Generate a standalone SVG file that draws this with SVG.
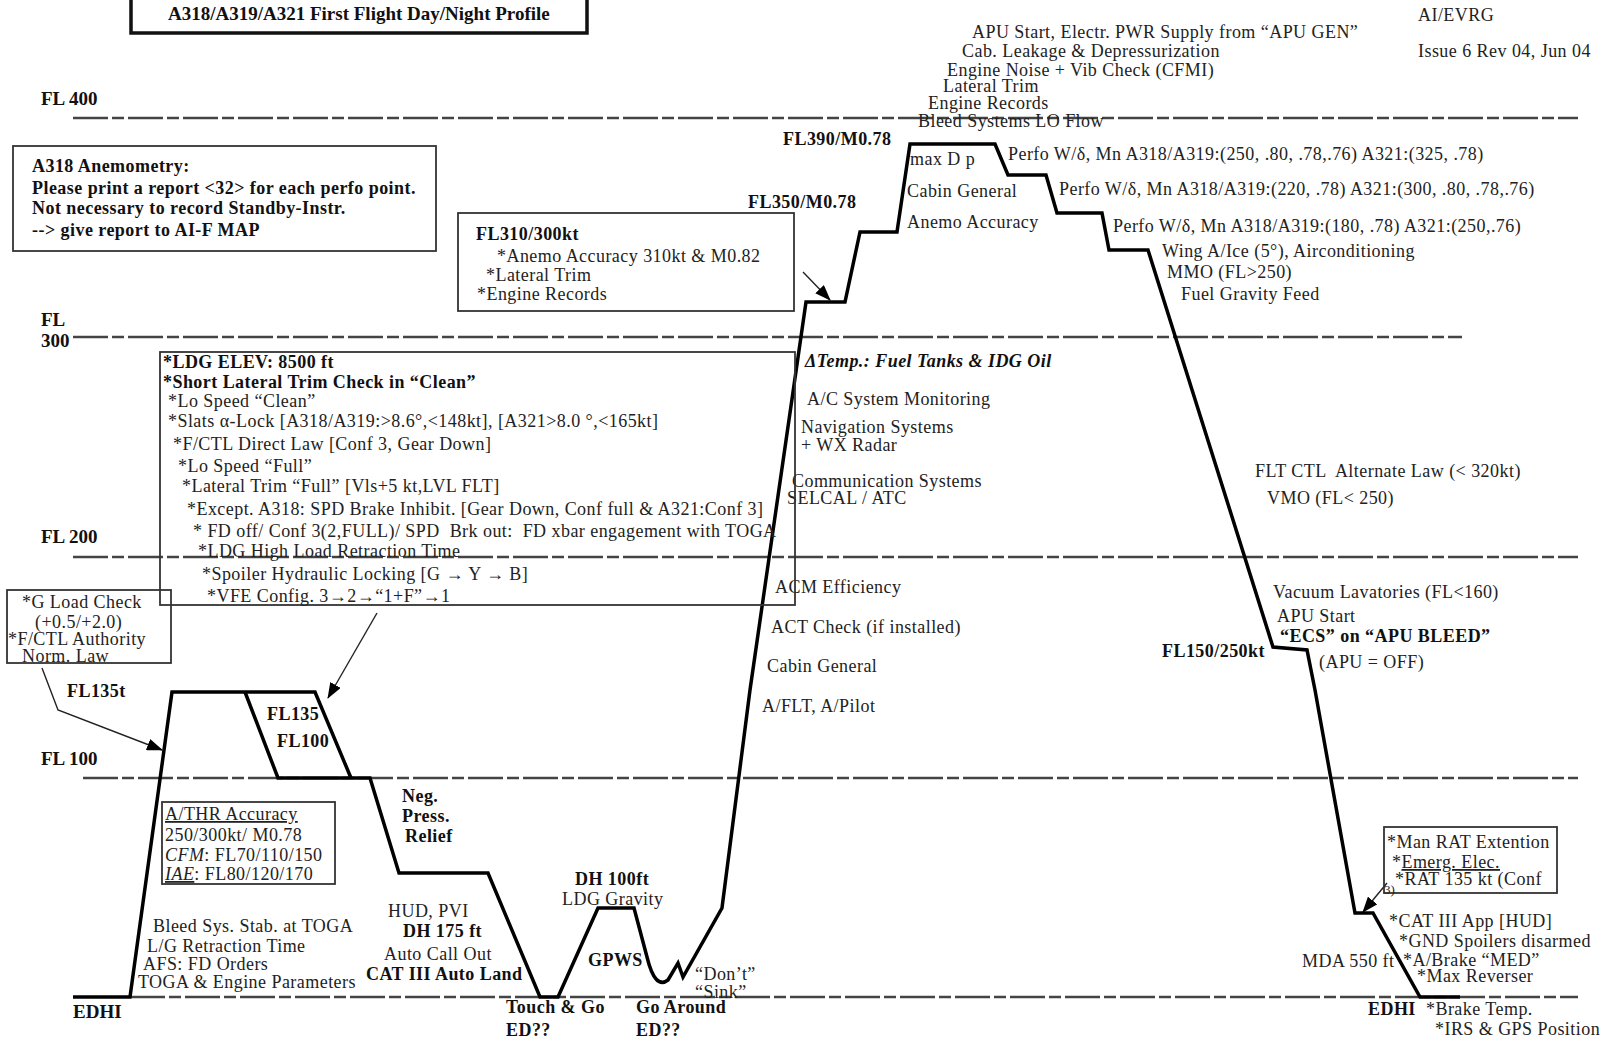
<svg xmlns="http://www.w3.org/2000/svg" width="1601" height="1041" viewBox="0 0 1601 1041">
<defs>
<style>
text{font-family:"Liberation Serif","Times New Roman",serif;font-size:18px;letter-spacing:0.45px;fill:#222}
.b{font-weight:bold;fill:#111}
.fl{font-weight:bold;font-size:19px;letter-spacing:0;fill:#111}
.bi{font-weight:bold;font-style:italic;fill:#111}
.sm{font-size:13px;letter-spacing:0}
.grid{stroke:#444;stroke-width:2.5;stroke-dasharray:35 4 12 4;fill:none}
.prof{fill:none;stroke:#000;stroke-width:3.5;stroke-linejoin:miter}
.box{fill:none;stroke:#333;stroke-width:1.8}
.arr{fill:none;stroke:#222;stroke-width:1.4;marker-end:url(#ah)}
</style>
<marker id="ah" markerUnits="userSpaceOnUse" markerWidth="16" markerHeight="12" refX="15" refY="6" orient="auto">
<path d="M0,0 L16,6 L0,12 z" fill="#000"/>
</marker>
</defs>
<rect width="1601" height="1041" fill="#fff"/>

<g id="grid">
<line class="grid" x1="73" y1="118" x2="1578" y2="118"/>
<line class="grid" x1="73" y1="337" x2="1462" y2="337"/>
<line class="grid" x1="73" y1="557" x2="1578" y2="557"/>
<line class="grid" x1="83" y1="778" x2="1578" y2="778"/>
<line class="grid" x1="130" y1="997" x2="1578" y2="997"/>
<text class="fl" x="41" y="105">FL 400</text>
<text class="fl" x="41" y="326">FL</text>
<text class="fl" x="41" y="347">300</text>
<text class="fl" x="41" y="543">FL 200</text>
<text class="fl" x="41" y="765">FL 100</text>
<text class="fl" x="73" y="1018">EDHI</text>
</g>

<g id="title">
<rect x="131" y="-10" width="456" height="43" fill="none" stroke="#111" stroke-width="3.5"/>
<text class="b" x="168" y="20" style="font-size:19px;letter-spacing:0">A318/A319/A321 First Flight Day/Night Profile</text>
</g>

<g id="header">
<text x="1418" y="21">AI/EVRG</text>
<text x="1418" y="57">Issue 6 Rev 04, Jun 04</text>
</g>

<g id="connectors">
<path class="prof" d="M73,997 L130,997 L172,692 L315,692 L351,778"/>
<path class="prof" d="M245,692 L278,778 L370,778 L399,873 L488,873 L540,997 L558,997 L598,908 L634,908 L647,957 Q655,990 668,980 L678,963 L683,977 L722,908 L750,690 L806,302 L845,302 L860,232 L897,232 L910,144 L995,144 L1008,175 L1046,175 L1057,213 L1102,213 L1109,250 L1148,250 L1273,647 L1307,650 L1315,690 L1355,913 L1373,913 L1420,997 L1460,997"/>
<polyline class="arr" points="42,668 58,710 162,750"/>
<line class="arr" x1="377" y1="613" x2="328" y2="698"/>
<line class="arr" x1="803" y1="272" x2="830" y2="300"/>
<line class="arr" x1="1387" y1="883" x2="1363" y2="912"/>
</g>

<g id="anemometry">
<rect class="box" x="13" y="146" width="423" height="105"/>
<text class="b" x="32" y="172">A318 Anemometry:</text>
<text class="b" x="32" y="194">Please print a report &lt;32&gt; for each perfo point.</text>
<text class="b" x="32" y="214">Not necessary to record Standby-Instr.</text>
<text class="b" x="32" y="236">--&gt; give report to AI-F MAP</text>
</g>

<g id="fl310">
<rect class="box" x="458" y="213" width="336" height="98"/>
<text class="b" x="476" y="240">FL310/300kt</text>
<text x="497" y="262">*Anemo Accuracy 310kt &amp; M0.82</text>
<text x="486" y="281">*Lateral Trim</text>
<text x="477" y="300">*Engine Records</text>
</g>

<g id="cruise-labels">
<text class="b" x="783" y="145">FL390/M0.78</text>
<text class="b" x="748" y="208">FL350/M0.78</text>
<text x="972" y="38">APU Start, Electr. PWR Supply from “APU GEN”</text>
<text x="962" y="57">Cab. Leakage &amp; Depressurization</text>
<text x="947" y="76">Engine Noise + Vib Check (CFMI)</text>
<text x="943" y="92">Lateral Trim</text>
<text x="928" y="109">Engine Records</text>
<text x="918" y="127">Bleed Systems LO Flow</text>
<text x="910" y="165">max D p</text>
<text x="907" y="197">Cabin General</text>
<text x="907" y="228">Anemo Accuracy</text>
<text x="1008" y="160">Perfo W/δ, Mn A318/A319:(250, .80, .78,.76) A321:(325, .78)</text>
<text x="1059" y="195">Perfo W/δ, Mn A318/A319:(220, .78) A321:(300, .80, .78,.76)</text>
<text x="1113" y="232">Perfo W/δ, Mn A318/A319:(180, .78) A321:(250,.76)</text>
<text x="1162" y="257">Wing A/Ice (5°), Airconditioning</text>
<text x="1167" y="278">MMO (FL&gt;250)</text>
<text x="1181" y="300">Fuel Gravity Feed</text>
</g>

<g id="climb-labels">
<text class="bi" x="805" y="367">ΔTemp.: Fuel Tanks &amp; IDG Oil</text>
<text x="807" y="405">A/C System Monitoring</text>
<text x="801" y="433">Navigation Systems</text>
<text x="801" y="451">+ WX Radar</text>
<text x="792" y="487">Communication Systems</text>
<text x="787" y="504">SELCAL / ATC</text>
<text x="775" y="593">ACM Efficiency</text>
<text x="771" y="633">ACT Check (if installed)</text>
<text x="767" y="672">Cabin General</text>
<text x="762" y="712">A/FLT, A/Pilot</text>
</g>

<g id="descent-labels">
<text x="1255" y="477" xml:space="preserve">FLT CTL  Alternate Law (&lt; 320kt)</text>
<text x="1267" y="504">VMO (FL&lt; 250)</text>
<text x="1273" y="598">Vacuum Lavatories (FL&lt;160)</text>
<text x="1277" y="622">APU Start</text>
<text class="b" x="1280" y="642">“ECS” on “APU BLEED”</text>
<text x="1319" y="668">(APU = OFF)</text>
<text class="b" x="1162" y="657">FL150/250kt</text>
</g>

<g id="rat">
<rect class="box" x="1384" y="827" width="173" height="66"/>
<text x="1387" y="848">*Man RAT Extention</text>
<text x="1392" y="868">*<tspan text-decoration="underline">Emerg. Elec.</tspan></text>
<text x="1395" y="885">*RAT 135 kt (Conf</text>
<text class="sm" x="1384" y="894">3)</text>
</g>

<g id="landing-labels">
<text x="1389" y="927">*CAT III App [HUD]</text>
<text x="1399" y="947">*GND Spoilers disarmed</text>
<text x="1403" y="966">*A/Brake “MED”</text>
<text x="1417" y="982">*Max Reverser</text>
<text x="1302" y="967">MDA 550 ft</text>
<text class="b" x="1368" y="1015">EDHI</text>
<text x="1426" y="1015">*Brake Temp.</text>
<text x="1435" y="1035">*IRS &amp; GPS Position</text>
</g>

<g id="ldg-box">
<rect class="box" x="160" y="352" width="635" height="253"/>
<text class="b" x="163" y="368">*LDG ELEV: 8500 ft</text>
<text class="b" x="163" y="388">*Short Lateral Trim Check in “Clean”</text>
<text x="168" y="407">*Lo Speed “Clean”</text>
<text x="168" y="427">*Slats α-Lock [A318/A319:&gt;8.6°,&lt;148kt], [A321&gt;8.0 °,&lt;165kt]</text>
<text x="173" y="450">*F/CTL Direct Law [Conf 3, Gear Down]</text>
<text x="178" y="472">*Lo Speed “Full”</text>
<text x="182" y="492">*Lateral Trim “Full” [Vls+5 kt,LVL FLT]</text>
<text x="187" y="515">*Except. A318: SPD Brake Inhibit. [Gear Down, Conf full &amp; A321:Conf 3]</text>
<text x="193" y="537" xml:space="preserve">* FD off/ Conf 3(2,FULL)/ SPD  Brk out:  FD xbar engagement with TOGA</text>
<text x="198" y="557">*LDG High Load Retraction Time</text>
<text x="202" y="580">*Spoiler Hydraulic Locking [G → Y → B]</text>
<text x="207" y="602">*VFE Config. 3→2→“1+F”→1</text>
</g>

<g id="gload">
<rect class="box" x="7" y="590" width="164" height="73"/>
<text x="22" y="608">*G Load Check</text>
<text x="35" y="628">(+0.5/+2.0)</text>
<text x="8" y="645">*F/CTL Authority</text>
<text x="22" y="662">Norm. Law</text>
</g>

<g id="low-labels">
<text class="b" x="67" y="697">FL135t</text>
<text class="b" x="267" y="720">FL135</text>
<text class="b" x="277" y="747">FL100</text>
<text x="153" y="932">Bleed Sys. Stab. at TOGA</text>
<text x="147" y="952">L/G Retraction Time</text>
<text x="143" y="970">AFS: FD Orders</text>
<text x="138" y="988">TOGA &amp; Engine Parameters</text>
</g>

<g id="athr">
<rect class="box" x="162" y="802" width="173" height="82"/>
<text x="165" y="820" text-decoration="underline">A/THR Accuracy</text>
<text x="165" y="841">250/300kt/ M0.78</text>
<text x="165" y="861"><tspan font-style="italic">CFM</tspan>: FL70/110/150</text>
<text x="165" y="880"><tspan font-style="italic" text-decoration="underline">IAE</tspan>: FL80/120/170</text>
</g>

<g id="approach-labels">
<text class="b" x="402" y="802">Neg.</text>
<text class="b" x="402" y="822">Press.</text>
<text class="b" x="405" y="842">Relief</text>
<text x="388" y="917">HUD, PVI</text>
<text class="b" x="403" y="937">DH 175 ft</text>
<text x="384" y="960">Auto Call Out</text>
<text class="b" x="366" y="980">CAT III Auto Land</text>
<text class="b" x="575" y="885">DH 100ft</text>
<text x="562" y="905">LDG Gravity</text>
<text class="b" x="588" y="966">GPWS</text>
<text x="695" y="980">“Don’t”</text>
<text x="695" y="998">“Sink”</text>
<text class="b" x="506" y="1013">Touch &amp; Go</text>
<text class="b" x="506" y="1036">ED??</text>
<text class="b" x="636" y="1013">Go Around</text>
<text class="b" x="636" y="1036">ED??</text>
</g>
</svg>
